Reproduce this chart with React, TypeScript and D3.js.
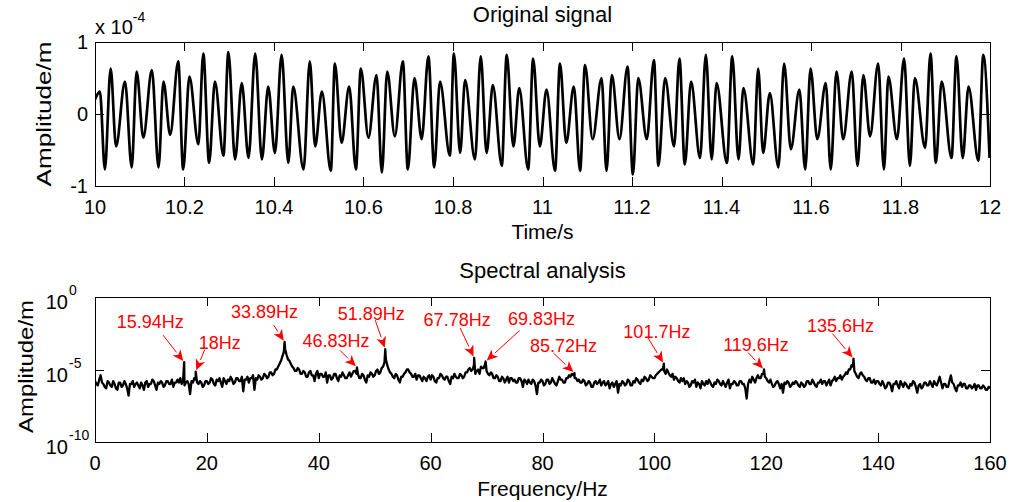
import React from 'react';
import * as d3 from 'd3';

const width = 1013;
const height = 502;
const font = '"Liberation Sans", Arial, sans-serif';

// ---- time signal: extrema (time in s, amplitude in 1e-4 m)
const sigTime = [
  10.000, 10.011, 10.022, 10.035, 10.047, 10.067, 10.082, 10.093, 10.108, 10.127,
  10.142, 10.153, 10.168, 10.186, 10.197, 10.211, 10.231, 10.242, 10.255, 10.268,
  10.287, 10.298, 10.313, 10.328, 10.343, 10.358, 10.373, 10.387, 10.402, 10.417,
  10.432, 10.443, 10.466, 10.480, 10.492, 10.507, 10.527, 10.536, 10.551, 10.568,
  10.583, 10.594, 10.611, 10.629, 10.641, 10.653, 10.670, 10.688, 10.699, 10.714,
  10.730, 10.745, 10.758, 10.771, 10.793, 10.802, 10.816, 10.827, 10.849, 10.862,
  10.875, 10.889, 10.909, 10.920, 10.935, 10.948, 10.968, 10.979, 10.994, 11.009,
  11.028, 11.039, 11.053, 11.070, 11.084, 11.095, 11.112, 11.132, 11.143, 11.155,
  11.172, 11.190, 11.202, 11.214, 11.233, 11.249, 11.259, 11.274, 11.294, 11.306,
  11.318, 11.332, 11.352, 11.365, 11.378, 11.389, 11.412, 11.424, 11.438, 11.449,
  11.471, 11.482, 11.493, 11.508, 11.527, 11.540, 11.555, 11.574, 11.587, 11.599,
  11.614, 11.633, 11.644, 11.657, 11.672, 11.691, 11.704, 11.717, 11.732, 11.750,
  11.763, 11.773, 11.792, 11.808, 11.821, 11.832, 11.855, 11.867, 11.879, 11.892,
  11.914, 11.925, 11.939, 11.952, 11.974, 11.985, 11.999,
];
const sigAmp = [
  0.20, 0.31, -0.77, 0.63, -0.45, 0.45, -0.74, 0.59, -0.33, 0.61,
  -0.74, 0.45, -0.29, 0.73, -0.77, 0.52, -0.42, 0.84, -0.68, 0.45,
  -0.58, 0.86, -0.63, 0.43, -0.61, 0.84, -0.63, 0.38, -0.54, 0.82,
  -0.68, 0.38, -0.77, 0.73, -0.45, 0.31, -0.79, 0.70, -0.40, 0.38,
  -0.77, 0.63, -0.33, 0.54, -0.81, 0.59, -0.31, 0.73, -0.77, 0.50,
  -0.35, 0.80, -0.74, 0.45, -0.58, 0.84, -0.54, 0.47, -0.63, 0.80,
  -0.54, 0.40, -0.72, 0.82, -0.45, 0.36, -0.77, 0.77, -0.45, 0.34,
  -0.79, 0.70, -0.40, 0.38, -0.79, 0.68, -0.35, 0.50, -0.79, 0.54,
  -0.35, 0.66, -0.84, 0.50, -0.35, 0.75, -0.72, 0.50, -0.45, 0.77,
  -0.70, 0.45, -0.61, 0.82, -0.63, 0.43, -0.68, 0.80, -0.63, 0.36,
  -0.70, 0.63, -0.54, 0.29, -0.74, 0.70, -0.49, 0.34, -0.77, 0.63,
  -0.35, 0.43, -0.77, 0.59, -0.35, 0.59, -0.72, 0.54, -0.31, 0.70,
  -0.77, 0.52, -0.35, 0.77, -0.72, 0.50, -0.47, 0.84, -0.68, 0.45,
  -0.61, 0.80, -0.61, 0.38, -0.65, 0.82, -0.61,
];
const timeTicks = [10, 10.2, 10.4, 10.6, 10.8, 11, 11.2, 11.4, 11.6, 11.8, 12];
const timeTickLabels = ['10', '10.2', '10.4', '10.6', '10.8', '11', '11.2', '11.4', '11.6', '11.8', '12'];
const ampTicks = [-1, 0, 1];

// ---- spectrum: log10 of amplitude, one value every 0.25 Hz from 0 to 160 Hz (one row = 5 Hz)
const specStep = 0.25;
const specLog = [
  -5.8, -6.0, -6.1, -5.7, -5.4, -5.9, -6.0, -6.2, -6.3, -5.8, -5.9, -6.1, -6.2, -5.8, -6.0, -6.3, -6.4, -5.9, -5.9, -6.2,
  -6.1, -5.8, -6.0, -6.3, -6.8, -6.0, -6.0, -5.8, -6.2, -6.0, -5.9, -6.1, -6.3, -5.9, -6.1, -6.4, -5.9, -5.8, -6.2, -6.0,
  -6.0, -5.7, -5.8, -6.1, -6.4, -5.9, -6.0, -5.8, -5.9, -6.2, -6.1, -5.8, -5.8, -6.0, -6.0, -5.7, -6.2, -5.9, -5.9, -5.7,
  -5.9, -5.6, -6.0, -5.7, -6.1, -5.9, -5.8, -6.0, -6.7, -5.8, -5.9, -5.6, -5.7, -5.9, -6.0, -5.8, -5.9, -6.2, -6.1, -5.8,
  -5.8, -6.0, -5.9, -5.6, -5.7, -6.0, -6.1, -5.7, -5.8, -5.6, -5.9, -6.2, -5.6, -5.8, -6.0, -5.7, -5.8, -5.5, -5.7, -6.0,
  -5.9, -5.6, -5.6, -5.8, -5.8, -5.5, -6.5, -5.7, -5.7, -5.5, -5.9, -5.6, -5.6, -5.4, -6.4, -5.6, -5.7, -5.4, -5.5, -5.7,
  -5.6, -5.3, -5.4, -5.6, -5.5, -5.2, -5.2, -5.4, -5.3, -5.0, -5.0, -4.8, -4.6, -4.4, -4.1, -3.8, -3.6, -4.0, -4.3, -4.4,
  -4.6, -4.8, -4.9, -5.1, -5.1, -4.9, -5.0, -5.3, -5.3, -5.1, -5.2, -5.5, -5.5, -5.2, -5.1, -5.4, -5.4, -5.8, -5.3, -5.1,
  -5.6, -5.3, -5.3, -5.5, -5.5, -5.2, -5.9, -5.4, -5.4, -5.7, -5.6, -5.3, -5.3, -5.6, -5.8, -5.4, -5.5, -5.2, -5.4, -5.6,
  -5.6, -5.4, -5.2, -5.5, -5.3, -5.1, -5.1, -5.3, -5.3, -5.6, -5.6, -5.3, -5.4, -5.7, -5.9, -5.4, -5.5, -5.2, -5.3, -5.5,
  -5.4, -5.1, -5.0, -5.3, -5.2, -4.9, -4.8, -4.5, -4.3, -4.7, -5.0, -5.2, -5.3, -5.5, -5.6, -5.3, -5.4, -5.7, -5.9, -5.5,
  -5.5, -5.3, -5.2, -5.0, -5.0, -5.2, -5.3, -5.5, -5.5, -5.3, -5.7, -5.4, -5.4, -5.6, -5.8, -5.5, -5.6, -5.8, -5.5, -5.4,
  -5.7, -5.4, -5.5, -5.8, -5.9, -5.6, -5.6, -5.3, -5.4, -5.6, -5.7, -5.5, -5.5, -5.8, -6.0, -5.5, -5.6, -5.3, -5.5, -5.6,
  -5.6, -5.3, -5.4, -5.6, -5.5, -5.2, -5.2, -5.0, -4.9, -5.1, -5.0, -4.7, -5.3, -5.1, -5.0, -5.3, -4.8, -4.9, -4.9, -4.6,
  -5.1, -5.3, -5.4, -5.2, -5.3, -5.6, -5.6, -5.4, -5.5, -5.8, -5.8, -5.5, -5.6, -5.9, -5.7, -5.5, -5.9, -5.6, -5.6, -5.8,
  -5.7, -5.9, -5.9, -5.6, -5.6, -5.8, -6.2, -5.7, -5.8, -6.0, -5.7, -5.9, -6.0, -5.7, -5.8, -6.1, -6.7, -5.9, -5.9, -5.7,
  -5.8, -6.1, -6.0, -5.7, -5.7, -6.0, -5.9, -5.6, -5.8, -6.0, -6.1, -5.8, -5.5, -5.7, -5.7, -5.9, -5.9, -5.6, -5.6, -5.4,
  -5.5, -5.3, -5.4, -5.6, -5.6, -5.8, -5.7, -5.9, -5.9, -5.7, -5.8, -6.1, -6.0, -5.8, -5.9, -6.2, -6.2, -5.9, -5.8, -6.0,
  -5.9, -5.7, -6.1, -5.9, -5.8, -6.1, -6.0, -5.8, -6.3, -6.0, -5.9, -6.2, -6.0, -5.8, -6.6, -6.0, -6.1, -5.8, -5.9, -6.1,
  -6.0, -5.7, -5.8, -6.1, -6.1, -5.8, -5.9, -5.6, -5.7, -5.9, -6.0, -5.7, -5.8, -5.5, -5.6, -5.8, -5.7, -5.4, -5.5, -5.6,
  -5.6, -5.4, -5.3, -5.2, -5.1, -5.0, -5.0, -5.1, -5.3, -5.0, -5.2, -5.4, -5.5, -5.3, -5.7, -5.5, -5.6, -5.8, -5.9, -5.6,
  -5.8, -5.6, -6.0, -5.8, -5.9, -6.2, -6.1, -5.8, -5.9, -5.7, -6.2, -5.9, -6.0, -6.3, -5.8, -6.0, -6.1, -5.8, -6.0, -5.7,
  -5.9, -6.1, -6.2, -5.9, -6.0, -5.7, -5.8, -6.0, -6.1, -5.8, -6.0, -6.2, -5.9, -5.7, -6.3, -6.0, -6.0, -5.8, -5.9, -6.1,
  -6.1, -5.8, -5.8, -6.0, -6.0, -6.3, -7.0, -6.0, -5.7, -5.9, -5.5, -5.7, -5.9, -5.6, -5.4, -5.6, -5.6, -5.3, -5.3, -5.5,
  -5.6, -5.8, -5.9, -5.7, -6.0, -6.2, -6.1, -5.9, -5.8, -6.0, -6.3, -6.0, -6.6, -5.9, -6.0, -5.8, -5.9, -6.2, -6.1, -5.9,
  -6.0, -5.8, -5.9, -6.1, -6.2, -5.9, -6.0, -6.2, -6.1, -5.8, -5.8, -6.0, -6.0, -5.7, -5.9, -6.1, -6.2, -5.9, -5.9, -5.7,
  -6.0, -5.8, -5.8, -6.1, -5.9, -5.7, -6.1, -5.8, -5.7, -5.5, -5.8, -5.6, -5.6, -5.4, -5.7, -5.5, -5.4, -5.2, -5.3, -5.0,
  -5.0, -4.7, -4.8, -5.1, -5.3, -5.5, -5.6, -5.3, -5.2, -5.4, -5.5, -5.7, -5.8, -5.6, -5.6, -5.9, -5.9, -5.7, -6.0, -5.8,
  -5.8, -6.0, -6.1, -5.8, -6.0, -6.3, -6.2, -5.9, -5.9, -6.1, -6.5, -6.0, -6.0, -5.8, -6.1, -6.3, -5.8, -6.0, -6.2, -5.9,
  -6.0, -6.2, -6.3, -6.0, -6.1, -5.8, -5.9, -6.2, -6.6, -6.1, -6.0, -6.3, -6.2, -5.9, -5.9, -6.1, -6.1, -5.8, -6.0, -6.2,
  -5.8, -6.0, -6.1, -5.8, -5.5, -5.9, -6.3, -6.0, -6.0, -6.2, -6.2, -5.8, -5.4, -5.9, -6.0, -6.3, -6.5, -6.1, -6.1, -5.9,
  -6.2, -6.0, -6.0, -6.3, -6.3, -6.1, -6.1, -6.3, -6.2, -6.0, -6.4, -6.1, -6.1, -6.3, -6.3, -6.1, -6.2, -6.4, -6.4, -6.2,
  -6.3,
];
const peakFreq = [15.94, 18, 33.89, 46.83, 51.89, 67.78, 69.83, 85.72, 101.7, 119.6, 135.6];
const peakLog = [-4.5, -5.15, -3.1, -4.85, -3.6, -4.2, -4.45, -5.25, -4.6, -5.0, -4.25];
const peakLabels = ['15.94Hz', '18Hz', '33.89Hz', '46.83Hz', '51.89Hz', '67.78Hz', '69.83Hz', '85.72Hz', '101.7Hz', '119.6Hz', '135.6Hz'];
const freqTicks = [0, 20, 40, 60, 80, 100, 120, 140, 160];
const specTickExp = [-10, -5, 0];

// label centre and arrow tail, as pixel offsets from the peak
const annoLayout = [
  { lx: -34, ly: -41, tx: -21, ty: -27 },
  { lx: 24, ly: -29, tx: 9, ty: -22 },
  { lx: -20, ly: -30, tx: -11, ty: -17 },
  { lx: -21, ly: -27, tx: -17, ty: -17 },
  { lx: -14, ly: -36, tx: -10, ty: -29 },
  { lx: -17, ly: -38, tx: -14, ty: -30 },
  { lx: 56, ly: -43, tx: 34, ty: -31 },
  { lx: -11, ly: -28, tx: -21, ty: -20 },
  { lx: -7, ly: -32, tx: -16, ty: -26 },
  { lx: -8, ly: -25, tx: -16, ty: -17 },
  { lx: -13, ly: -33, tx: -21, ty: -25 },
];

const top = { left: 95, right: 990, top: 42, bottom: 186 };
const bot = { left: 95, right: 990, top: 297, bottom: 442 };
const tickLen = 9;

const xTime = d3.scaleLinear().domain([10, 12]).range([top.left, top.right]);
const yAmp = d3.scaleLinear().domain([-1, 1]).range([top.bottom, top.top]);
const xFreq = d3.scaleLinear().domain([0, 160]).range([bot.left, bot.right]);
const ySpec = d3.scaleLog().domain([1e-10, 1]).range([bot.bottom, bot.top]);

function Frame({ box, xt, yt }: { box: typeof top; xt: number[]; yt: number[] }) {
  return (
    <g stroke="#000" strokeWidth={1} shapeRendering="crispEdges" fill="none">
      <rect x={box.left + 0.5} y={box.top + 0.5} width={box.right - box.left} height={box.bottom - box.top} />
      {xt.map((x, i) => (
        <g key={'x' + i}>
          <line x1={x + 0.5} x2={x + 0.5} y1={box.bottom} y2={box.bottom - tickLen} />
          <line x1={x + 0.5} x2={x + 0.5} y1={box.top} y2={box.top + tickLen} />
        </g>
      ))}
      {yt.map((y, i) => (
        <g key={'y' + i}>
          <line x1={box.left} x2={box.left + tickLen} y1={y + 0.5} y2={y + 0.5} />
          <line x1={box.right} x2={box.right - tickLen} y1={y + 0.5} y2={y + 0.5} />
        </g>
      ))}
    </g>
  );
}

export default function App() {
  const sigPath = d3
    .line<number>()
    .x((_, i) => xTime(sigTime[i]))
    .y(d => yAmp(d))
    .curve(d3.curveMonotoneX)(sigAmp) || '';

  const specPts: [number, number][] = specLog.map((e, i) => [i * specStep, e] as [number, number]);
  peakFreq.forEach((f, i) => specPts.push([f, peakLog[i]]));
  specPts.sort((a, b) => a[0] - b[0]);
  const specPath = d3
    .line<[number, number]>()
    .x(d => xFreq(d[0]))
    .y(d => ySpec(Math.pow(10, d[1])))(specPts) || '';

  const annos = peakFreq.map((f, i) => {
    const px = xFreq(f);
    const py = ySpec(Math.pow(10, peakLog[i]));
    const l = annoLayout[i];
    const tx = px + l.tx;
    const ty = py + l.ty;
    const dx = px - tx;
    const dy = py - ty;
    const len = Math.hypot(dx, dy);
    const ux = dx / len;
    const uy = dy / len;
    const tipX = px - ux * 1.5;
    const tipY = py - uy * 1.5;
    const bx = tipX - ux * 11;
    const by = tipY - uy * 11;
    const head = `${tipX},${tipY} ${bx - uy * 5},${by + ux * 5} ${bx + ux * 3},${by + uy * 3} ${bx + uy * 5},${by - ux * 5}`;
    return { label: peakLabels[i], lx: px + l.lx, ly: py + l.ly, tx, ty, bx, by, head };
  });

  return (
    <div style={{ position: 'absolute', left: 0, top: 0 }}>
      <svg width={width} height={height} style={{ display: 'block', background: '#fff' }} fontFamily={font}>
        <defs>
          <clipPath id="clipTop">
            <rect x={top.left} y={top.top} width={top.right - top.left + 1} height={top.bottom - top.top + 1} />
          </clipPath>
          <clipPath id="clipBot">
            <rect x={bot.left} y={bot.top} width={bot.right - bot.left + 1} height={bot.bottom - bot.top + 1} />
          </clipPath>
        </defs>

        {/* top panel */}
        <text x={(top.left + top.right) / 2} y={22} fontSize={22} textAnchor="middle">Original signal</text>
        <path d={sigPath} fill="none" stroke="#000" strokeWidth={2.7} strokeLinejoin="round" clipPath="url(#clipTop)" />
        <Frame box={top} xt={timeTicks.map(t => Math.round(xTime(t)))} yt={ampTicks.map(a => Math.round(yAmp(a)))} />
        {timeTicks.map((t, i) => (
          <text key={i} x={xTime(t)} y={214} fontSize={20} textAnchor="middle">{timeTickLabels[i]}</text>
        ))}
        {ampTicks.map(a => (
          <text key={a} x={88} y={yAmp(a) + 7} fontSize={20} textAnchor="end">{a}</text>
        ))}
        <text x={95} y={34} fontSize={20}>x 10<tspan dy={-12} fontSize={14}>-4</tspan></text>
        <text x={(top.left + top.right) / 2} y={239} fontSize={21} textAnchor="middle">Time/s</text>
        <text transform={`translate(51,${(top.top + top.bottom) / 2}) rotate(-90)`} fontSize={21} textAnchor="middle"
          textLength={145} lengthAdjust="spacingAndGlyphs">Amplitude/m</text>

        {/* bottom panel */}
        <text x={(bot.left + bot.right) / 2} y={278} fontSize={22} textAnchor="middle">Spectral analysis</text>
        <path d={specPath} fill="none" stroke="#000" strokeWidth={2.3} strokeLinejoin="round" clipPath="url(#clipBot)" />
        <Frame box={bot} xt={freqTicks.map(f => Math.round(xFreq(f)))} yt={specTickExp.map(e => Math.round(ySpec(Math.pow(10, e))))} />
        {freqTicks.map(f => (
          <text key={f} x={xFreq(f)} y={470} fontSize={20} textAnchor="middle">{f}</text>
        ))}
        {specTickExp.map(e => {
          const y = ySpec(Math.pow(10, e));
          return (
            <g key={e}>
              <text x={68} y={y + 12} fontSize={20} textAnchor="end">10</text>
              <text x={69} y={y - 2} fontSize={14}>{String(e)}</text>
            </g>
          );
        })}
        <text x={(bot.left + bot.right) / 2} y={496} fontSize={21} textAnchor="middle">Frequency/Hz</text>
        <text transform={`translate(33,${(300 + 433) / 2}) rotate(-90)`} fontSize={21} textAnchor="middle"
          textLength={133} lengthAdjust="spacingAndGlyphs">Amplitude/m</text>

        {/* peak annotations */}
        {annos.map((a, i) => (
          <g key={i}>
            <line x1={a.tx} y1={a.ty} x2={a.bx} y2={a.by} stroke="#ff0000" strokeWidth={1} />
            <polygon points={a.head} fill="#ff0000" />
            <text x={a.lx} y={a.ly + 6.5} fontSize={18} textAnchor="middle" fill="#ff0000">{a.label}</text>
          </g>
        ))}
      </svg>
    </div>
  );
}
